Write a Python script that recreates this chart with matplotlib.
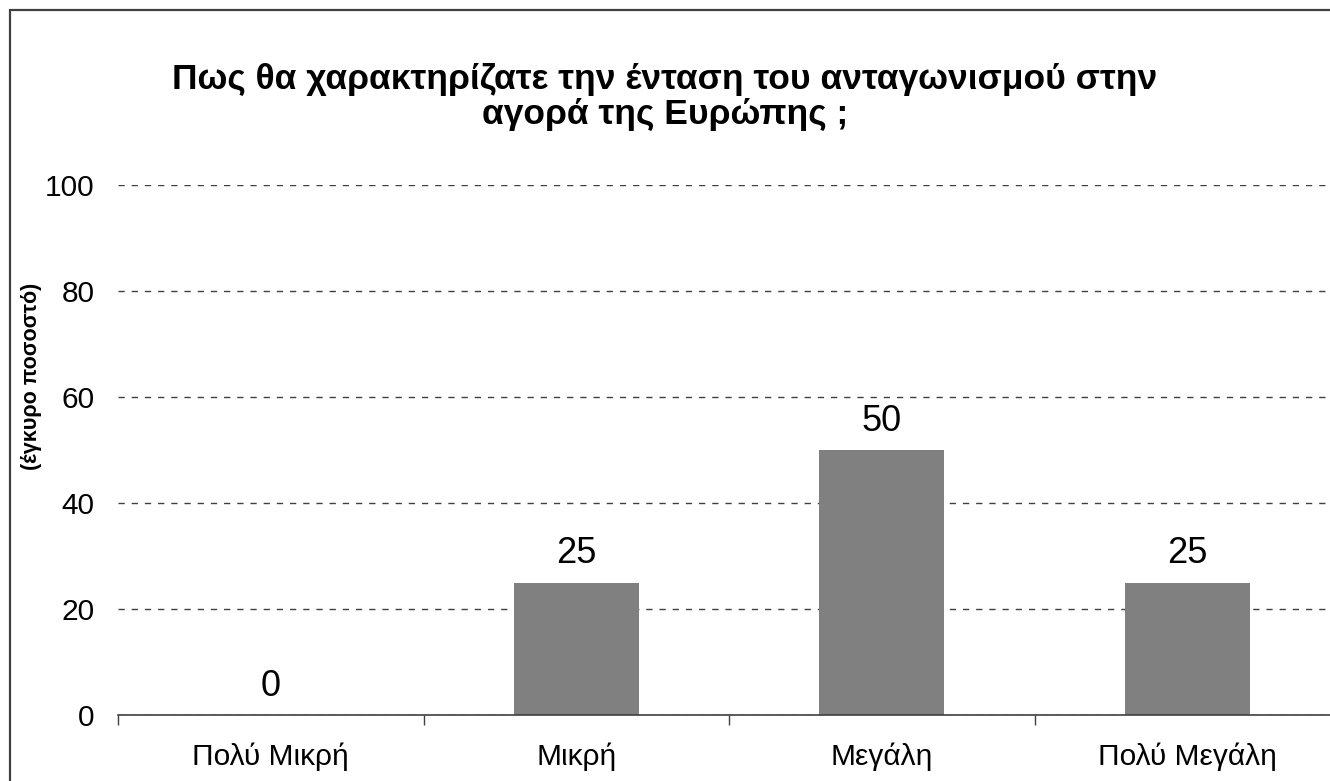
import matplotlib
matplotlib.use("Agg")
import matplotlib.pyplot as plt
from matplotlib.patches import Rectangle

categories = ["Πολύ Μικρή", "Μικρή", "Μεγάλη", "Πολύ Μεγάλη"]
values = [0, 25, 50, 25]
yticks = [0, 20, 40, 60, 80, 100]
title = "Πως θα χαρακτηρίζατε την ένταση του ανταγωνισμού στην\nαγορά της Ευρώπης ;"
ylabel = "(έγκυρο ποσοστό)"

plt.rcParams['font.family'] = ['Liberation Sans', 'DejaVu Sans']

W, H = 1330, 781
fig = plt.figure(figsize=(W / 100, H / 100), dpi=100)
fig.patch.set_facecolor('white')

# figure border (top and left visible)
fig.patches.append(Rectangle((10 / W, -10 / H), 1.05, (H - 10 + 10) / H,
                             transform=fig.transFigure, fill=False,
                             edgecolor='#404040', linewidth=1.6))

left, right = 118, 1340
bottom, top = 715, 185
ax = fig.add_axes([left / W, (H - bottom) / H, (right - left) / W, (bottom - top) / H])
ax.set_facecolor('none')

x = list(range(len(categories)))
ax.set_axisbelow(True)
ax.yaxis.grid(True, linestyle=(0, (4.5, 5)), color='#404040', linewidth=1.0)
ax.bar(x, values, width=0.41, color='#808080', zorder=3)

for xi, v in zip(x, values):
    ax.annotate(f"{v}", (xi, v), xytext=(0, 14), textcoords='offset points',
                ha='center', va='baseline', fontsize=26, color='black')

ax.set_xlim(-0.5, len(categories) - 0.5)
ax.set_ylim(0, 100)
ax.set_yticks(yticks)
ax.set_yticklabels([str(t) for t in yticks], fontsize=21.5)
ax.tick_params(axis='y', length=0, pad=17)

ax.set_xticks(x)
ax.set_xticklabels(categories, fontsize=21.5)
ax.tick_params(axis='x', which='major', length=0, pad=20)
ax.set_xticks([i - 0.5 for i in range(len(categories) + 1)], minor=True)
ax.tick_params(axis='x', which='minor', length=7, width=1.0, color='#404040', direction='out')

for s in ['left', 'right', 'top']:
    ax.spines[s].set_visible(False)
ax.spines['bottom'].set_color('#404040')
ax.spines['bottom'].set_linewidth(1.2)
ax.spines['bottom'].set_zorder(4)

fig.text(665 / W, 1 - 97 / H, title, ha='center', va='center', fontsize=25.5,
         fontweight='bold', linespacing=1.1)
fig.text(32 / W, 1 - 376 / H, ylabel, ha='center', va='center', rotation=90,
         fontsize=15.5, fontweight='bold')

fig.savefig('out.png', dpi=100)
